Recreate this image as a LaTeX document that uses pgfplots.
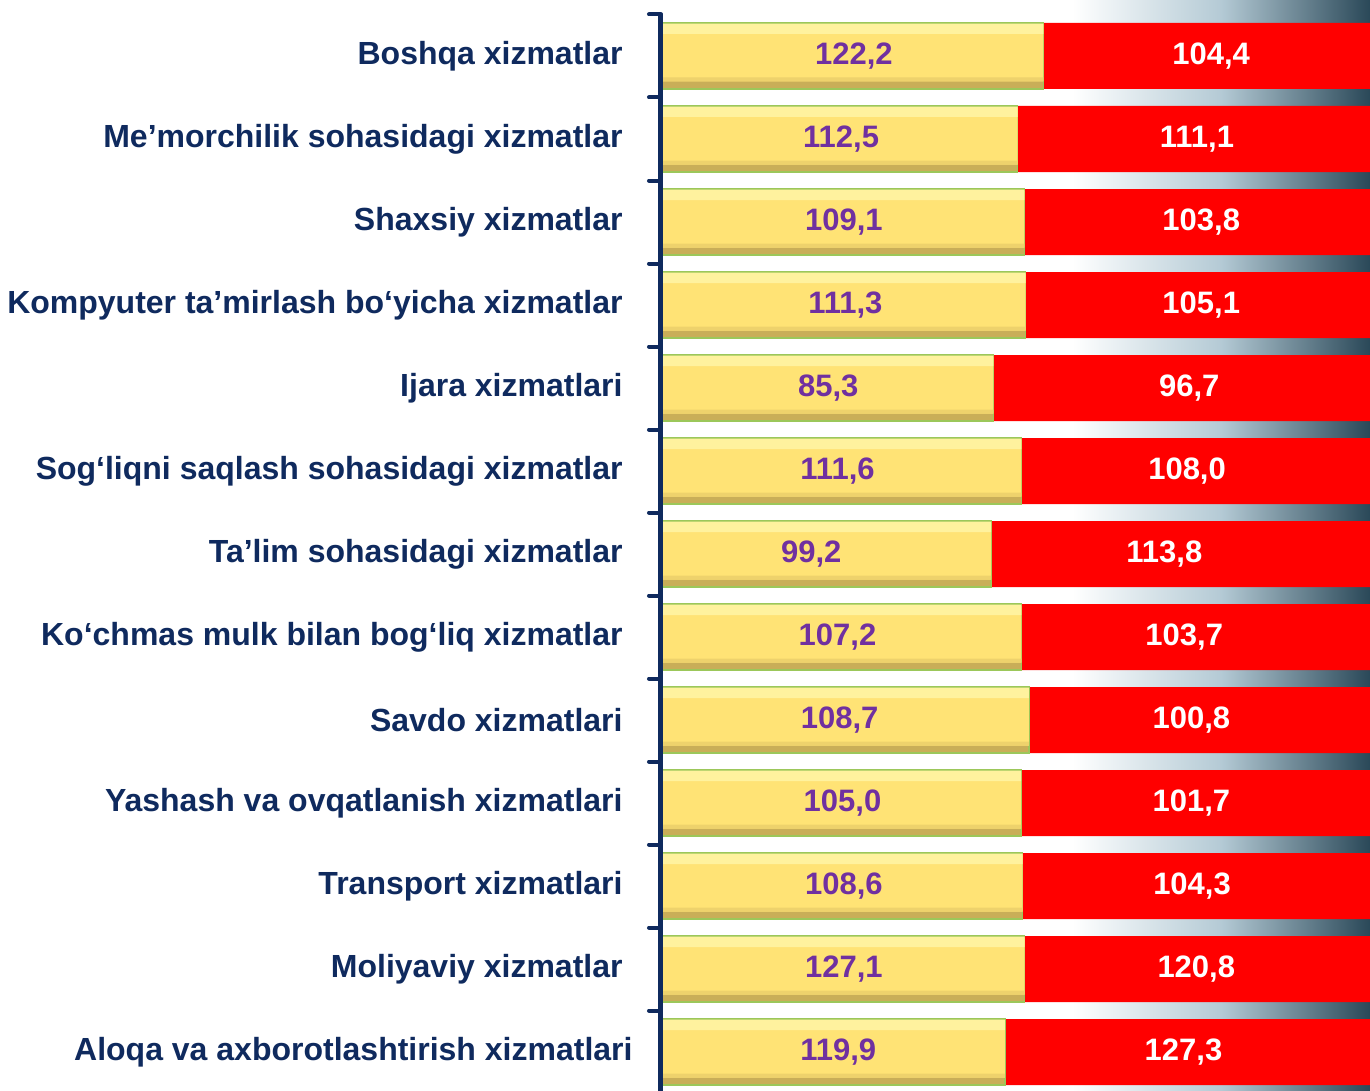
\documentclass[border=0pt]{standalone}
\usepackage{pgfplots}
\pgfplotsset{compat=1.18}
\usepackage{pgfplotstable}
\usepackage{fontspec}
\setmainfont{Liberation Sans}
\definecolor{navy}{HTML}{0F2A5E}
\definecolor{barred}{HTML}{FF0000}
\definecolor{purp}{HTML}{7030A0}
\definecolor{yel}{HTML}{FFE375}
\definecolor{yeltop}{HTML}{FFF29E}
\definecolor{yelmid}{HTML}{EED26C}
\definecolor{yelbot}{HTML}{C9AE58}
\definecolor{ygreen}{HTML}{9CC75A}
\definecolor{decolight}{HTML}{B4CAD5}
\definecolor{decodark}{HTML}{2A4858}

% idx: row from top; share = first value / (first + second); total = whole bar
\pgfplotstableread{
idx share total ylab rlab ypos rpos
0  0.5393 1 122,2 104,4 0.272 0.776
1  0.5031 1 112,5 111,1 0.254 0.756
2  0.5124 1 109,1 103,8 0.258 0.762
3  0.5143 1 111,3 105,1 0.260 0.762
4  0.4687 1 85,3  96,7  0.236 0.745
5  0.5082 1 111,6 108,0 0.249 0.742
6  0.4657 1 99,2  113,8 0.212 0.710
7  0.5083 1 107,2 103,7 0.249 0.738
8  0.5189 1 108,7 100,8 0.252 0.748
9  0.5080 1 105,0 101,7 0.256 0.748
10 0.5101 1 108,6 104,3 0.258 0.749
11 0.5127 1 127,1 120,8 0.258 0.755
12 0.4850 1 119,9 127,3 0.250 0.737
}\data

\begin{document}
\begin{tikzpicture}
\begin{axis}[
  name=ax, at={(0,0)}, anchor=south west,
  width=354.5pt, height=539.5pt, scale only axis,
  xmin=0, xmax=1, ymin=-0.5, ymax=12.5, y dir=reverse,
  axis on top,
  axis x line=none, xtick=\empty,
  axis y line*=left,
  y axis line style={draw=navy, line width=2.5pt},
  ytick={-0.5,0.5,...,12.5},
  yticklabels={},
  major tick length=6pt,
  tick align=outside,
  tick style={draw=navy, line width=2pt, line cap=round},
  extra y ticks={0,...,12},
  extra y tick labels={Boshqa xizmatlar,
    Me’morchilik sohasidagi xizmatlar,
    Shaxsiy xizmatlar,
    Kompyuter ta’mirlash bo‘yicha xizmatlar,
    Ijara xizmatlari,
    Sog‘liqni saqlash sohasidagi xizmatlar,
    Ta’lim sohasidagi xizmatlar,
    Ko‘chmas mulk bilan bog‘liq xizmatlar,
    Savdo xizmatlari,
    Yashash va ovqatlanish xizmatlari,
    Transport xizmatlari,
    Moliyaviy xizmatlar,
    {Aloqa va axborotlashtirish xizmatlari\hspace*{-5pt}}},
  extra y tick style={major tick length=0pt, tick style={draw=none},
    yticklabel style={font=\bfseries\fontsize{16}{19}\selectfont, text=navy, inner sep=0pt, xshift=-19pt}},
  clip=false,
]
% decorative background on the right
\fill[left color=white, right color=decodark, middle color=decolight]
  (axis cs:0.58,-0.68) rectangle (axis cs:1,12.6);
% second segment (red) drawn as full bar
\addplot[xbar, bar shift=0pt, bar width=33pt, fill=barred, draw=none]
  table[x=total, y=idx] {\data};
% first segment (yellow): base with darker lower bevel
\addplot[xbar, bar shift=0pt, bar width=33pt, fill=yelbot, draw=ygreen, line width=0.7pt]
  table[x=share, y=idx] {\data};
% yellow face
\addplot[xbar, bar shift=1.5pt, bar width=28.5pt, fill=yel, draw=none]
  table[x=share, y=idx] {\data};
% transition strip at the bottom of the face
\addplot[xbar, bar shift=-11.75pt, bar width=2pt, fill=yelmid, draw=none]
  table[x=share, y=idx] {\data};
% top highlight
\addplot[xbar, bar shift=13.6pt, bar width=5.2pt, fill=yeltop, draw=none]
  table[x=share, y=idx] {\data};
% labels
\addplot[draw=none, mark=none, nodes near coords, point meta=explicit symbolic,
  nodes near coords style={anchor=center, font=\bfseries\fontsize{15.5}{18}\selectfont, text=purp}]
  table[x=ypos, y=idx, meta=ylab] {\data};
\addplot[draw=none, mark=none, nodes near coords, point meta=explicit symbolic,
  nodes near coords style={anchor=center, font=\bfseries\fontsize{15.5}{18}\selectfont, text=white}]
  table[x=rpos, y=idx, meta=rlab] {\data};
\end{axis}
\pgfresetboundingbox
\path[use as bounding box] ([xshift=-330.5pt,yshift=1.25pt]ax.south west) rectangle ([yshift=7.25pt]ax.north east);
\end{tikzpicture}
\end{document}
